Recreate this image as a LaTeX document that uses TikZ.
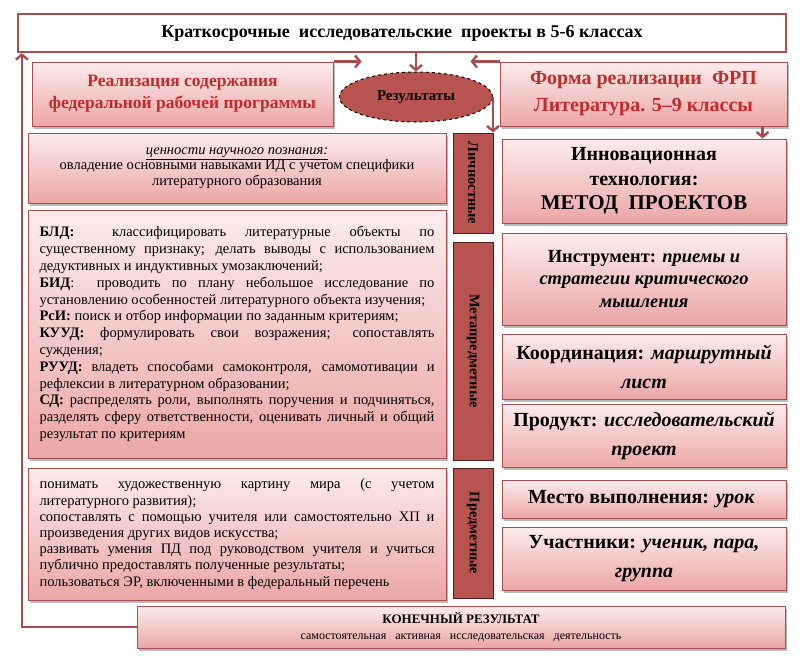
\documentclass[tikz,border=0pt]{standalone}
\usepackage{fontspec}
\setmainfont{Liberation Serif}
\usetikzlibrary{arrows.meta,shapes.geometric,shadows,positioning}

\definecolor{ramka}{RGB}{168,78,78}
\definecolor{rozov}{RGB}{252,236,236}
\definecolor{rozovtemn}{RGB}{236,166,166}
\definecolor{vkladka}{RGB}{184,84,80}
\definecolor{vkladkaramka}{RGB}{80,28,28}
\definecolor{krasn}{RGB}{192,44,44}

\begin{document}
\begin{tikzpicture}[
    x=1pt, y=-1pt,
    >=Latex,
    box/.style={draw=ramka, line width=1pt, top color=rozov, bottom color=rozovtemn,
                drop shadow={shadow xshift=2pt, shadow yshift=-2.5pt, fill=black!45, opacity=.6},
                align=center, inner sep=3pt},
    redbox/.style={box, text=krasn, font=\bfseries\fontsize{17.5}{22}\selectfont,
                   minimum height=64pt},
    textbox/.style={box, minimum width=418pt, text width=395pt, align=justify,
                    font=\fontsize{14.5}{16.8}\selectfont},
    rightbox/.style={box, minimum width=284pt, font=\bfseries\fontsize{20}{29}\selectfont},
    tab/.style={draw=vkladkaramka, line width=1pt, fill=vkladka, rotate=-90,
                minimum height=40pt, inner sep=2pt, font=\bfseries\fontsize{14.5}{16}\selectfont},
    arr/.style={draw=ramka, line width=2.4pt, -{Straight Barb[length=5pt, width=12pt]}}
  ]
  \useasboundingbox (0,0) rectangle (800,665);
  \tolerance=10000 \hbadness=10000

  % Заголовок
  \node[draw=ramka, line width=2.2pt, fill=white, minimum width=768pt, minimum height=38pt,
        font=\bfseries\fontsize{18}{20}\selectfont] (title) at (402,33)
    {Краткосрочные\ \ исследовательские\ \ проекты в 5-6 классах};

  % Верхний ряд
  \node[redbox, minimum width=301pt] (realiz) at (182.5,94) {
    Реализация содержания\\
    федеральной рабочей программы
  };
  \node[redbox, minimum width=287pt, font=\bfseries\fontsize{20}{27}\selectfont] (forma) at (643.5,94) {
    Форма реализации\ \ ФРП\\
    Литература. 5–9 классы
  };
  \node[ellipse, draw=black, dashed, line width=1pt, fill=vkladka, minimum width=153pt,
        minimum height=50pt, font=\bfseries\fontsize{15}{17}\selectfont] (res) at (416,97)
    {Результаты};

  % Левая колонка
  \node[box, minimum width=418pt, minimum height=70pt, font=\fontsize{14.5}{15.5}\selectfont]
    (lich) at (237,168) {
    \textit{\underline{ценности научного познания:}}\\
    овладение основными навыками ИД с учетом специфики\\
    литературного образования
  };
  \node[textbox, minimum height=248pt] (meta) at (237,334) {
    \textbf{БЛД:}\ \ классифицировать литературные объекты по\linebreak
    существенному признаку; делать выводы с использованием\linebreak
    дедуктивных и индуктивных умозаключений;\par
    \textbf{БИД}:\ \ проводить по плану небольшое исследование по\linebreak
    установлению особенностей литературного объекта изучения;\par
    \textbf{РсИ:} поиск и отбор информации по заданным критериям;\par
    \textbf{КУУД:} формулировать свои возражения; сопоставлять\linebreak
    суждения;\par
    \textbf{РУУД:} владеть способами самоконтроля, самомотивации и\linebreak
    рефлексии в литературном образовании;\par
    \textbf{СД:} распределять роли, выполнять поручения и подчиняться,\linebreak
    разделять сферу ответственности, оценивать личный и общий\linebreak
    результат по критериям
  };
  \node[textbox, minimum height=132pt, font=\fontsize{14.5}{16.2}\selectfont] (pred) at (237,534) {
    понимать художественную картину мира (с учетом\linebreak
    литературного развития);\par
    сопоставлять с помощью учителя или самостоятельно ХП и\linebreak
    произведения других видов искусства;\par
    развивать умения ПД под руководством учителя и учиться\linebreak
    публично предоставлять полученные результаты;\par
    пользоваться ЭР, включенными в федеральный перечень
  };

  % Вкладки
  \node[tab, minimum width=100pt] (tabL) at (473,183) {Личностные};
  \node[tab, minimum width=218pt] (tabM) at (473,351) {Метапредметные};
  \node[tab, minimum width=130pt] (tabP) at (473,533) {Предметные};

  % Правая колонка
  \node[rightbox, minimum height=84pt, font=\bfseries\fontsize{20}{24.5}\selectfont] (innov) at (644,181) {
    Инновационная\\
    технология:\\
    {\fontsize{21}{24}\selectfont МЕТОД\ \ ПРОЕКТОВ}
  };
  \node[rightbox, minimum height=92pt, font=\bfseries\fontsize{18.5}{22.5}\selectfont] (instr) at (644,279) {
    Инструмент: \textit{приемы и}\\
    \textit{стратегии критического}\\
    \textit{мышления}
  };
  \node[rightbox, minimum height=65pt] (coord) at (644,366.5) {
    Координация: \textit{маршрутный}\\
    \textit{лист}
  };
  \node[rightbox, minimum height=63pt] (prod) at (644,435.5) {
    Продукт: \textit{исследовательский}\\
    \textit{проект}
  };
  \node[rightbox, minimum height=38pt] (mesto) at (644,499) {
    Место выполнения: \textit{урок}
  };
  \node[rightbox, minimum height=63pt] (uchast) at (644,558.5) {
    Участники: \textit{ученик, пара,}\\
    \textit{группа}
  };

  % Итог
  \node[box, minimum width=648pt, minimum height=42pt, font=\fontsize{13}{16}\selectfont]
    (final) at (461,627) {
    \textbf{КОНЕЧНЫЙ РЕЗУЛЬТАТ}\\
    {\fontsize{12}{13}\selectfont самостоятельная\ \ \ активная\ \ \ исследовательская\ \ \ деятельность}
  };

  % Стрелки
  \draw[arr] (title.south -| res.north) -- (res.north);
  \draw[arr] (realiz.north east) -- (realiz.north east -| res.north west);
  \draw[arr] (forma.north west) -- (forma.north west -| res.north east);
  \draw[arr] (res.east) -- (res.east |- tabL.west);
  \draw[arr] ([xshift=-25pt]forma.south east) -- ([xshift=-25pt]forma.south east |- innov.north);
  \draw[arr] (final.west) -| ([xshift=5pt]title.south west);
\end{tikzpicture}
\end{document}
